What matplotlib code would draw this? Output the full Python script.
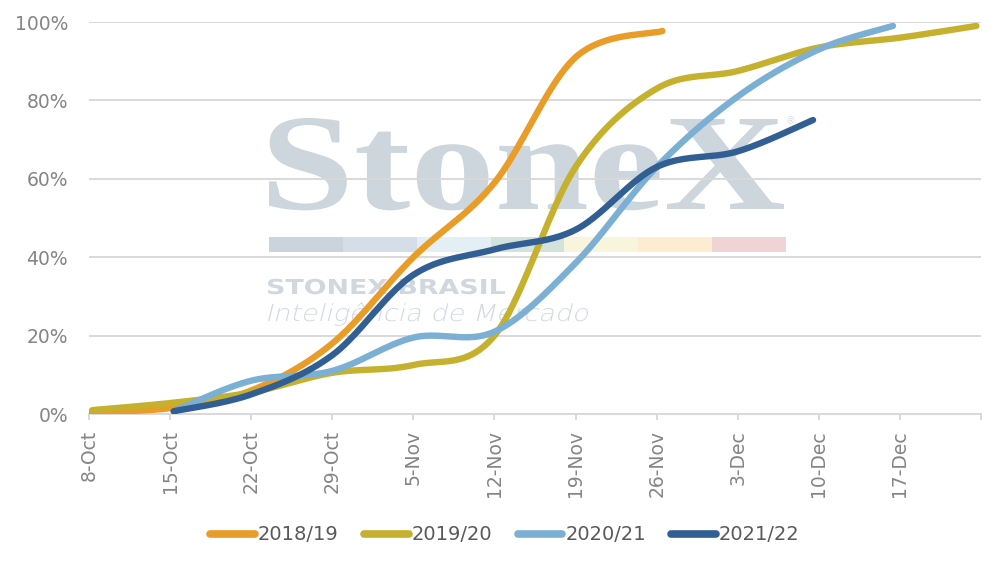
import numpy as np
import matplotlib
matplotlib.use("Agg")
import matplotlib.pyplot as plt
from matplotlib.textpath import TextPath
from matplotlib.font_manager import FontProperties
from matplotlib.patches import PathPatch, Rectangle
from matplotlib.transforms import Affine2D

# Eixo x: dias desde 8-Oct
tick_days = [0, 7, 14, 21, 28, 35, 42, 49, 56, 63, 70, 77]
tick_labels = ["8-Oct", "15-Oct", "22-Oct", "29-Oct", "5-Nov", "12-Nov",
               "19-Nov", "26-Nov", "3-Dec", "10-Dec", "17-Dec", ""]

# Séries (dia, % plantado)
x_1819 = [0, 7, 14, 21, 28, 35, 42, 49.5]
y_1819 = [0.5, 1.5, 6, 18, 40, 59, 91, 97.7]

x_1920 = [0.3, 7, 14, 21, 28, 35, 42, 49, 56, 63, 70, 76.6]
y_1920 = [1, 2.8, 5.5, 10.5, 12.5, 20, 63, 83, 87.5, 93.5, 96, 99]

x_2021 = [7.5, 14, 21, 28, 35, 42, 49, 56, 63, 69.4]
y_2021 = [1, 8.5, 11, 19.5, 21, 38.5, 63, 81, 93, 99]

x_2122 = [7.3, 14, 21, 28, 35, 42, 49, 56, 62.5]
y_2122 = [0.7, 5, 15, 35.5, 42, 47, 63, 67, 75]

labels = ["2018/19", "2019/20", "2020/21", "2021/22"]
colors = ["#E99C28", "#C5B12E", "#7BAFD4", "#325F93"]

W, H, DPI = 1005, 567, 100


def smooth(xs, ys, n=40):
    # curva suavizada tipo Excel (Bezier com pontos vizinhos)
    P = np.column_stack([xs, ys]).astype(float)
    P = np.vstack([P[0], P, P[-1]])
    out = []
    t = np.linspace(0, 1, n)[:, None]
    for i in range(1, len(P) - 2):
        p0, p1, p2, p3 = P[i - 1], P[i], P[i + 1], P[i + 2]
        c1 = p1 + (p2 - p0) / 6
        c2 = p2 - (p3 - p1) / 6
        seg = ((1 - t) ** 3) * p1 + 3 * ((1 - t) ** 2) * t * c1 \
            + 3 * (1 - t) * t ** 2 * c2 + t ** 3 * p2
        out.append(seg if i == 1 else seg[1:])
    out = np.vstack(out)
    return out[:, 0], out[:, 1]


fig = plt.figure(figsize=(W / DPI, H / DPI), dpi=DPI)
ax = fig.add_axes([89 / W, (H - 414) / H, (981 - 89) / W, (414 - 22) / H])
ax.set_facecolor("none")

pix = Affine2D().scale(1 / DPI) + fig.dpi_scale_trans


def logo_text(s, x0, x1, base, cap_px, prop, color, shear=0.0):
    tp = TextPath((0, 0), s, size=100, prop=prop)
    tp = Affine2D().skew_deg(shear, 0).transform_path(tp)
    ext = tp.get_extents()
    cap = TextPath((0, 0), "H", size=100, prop=prop).get_extents().height
    tr = Affine2D().translate(-ext.x0, 0).scale((x1 - x0) / ext.width, cap_px / cap) \
        .translate(x0, H - base)
    p = PathPatch(tr.transform_path(tp), fc=color, ec="none", lw=0,
                  transform=pix, zorder=-1)
    fig.add_artist(p)


# Marca d'água StoneX
logo_text("StoneX", 269, 784, 209, 90,
          FontProperties(family="Liberation Serif", weight="bold"), "#CDD5DD")
logo_text("STONEX BRASIL", 268, 505, 294, 15,
          FontProperties(family="DejaVu Sans", weight="bold"), "#D0D7DF")
logo_text("Inteligência de Mercado", 268, 588, 321, 17,
          FontProperties(family="DejaVu Sans", weight="light"), "#D3D9E1", shear=12)
fig.text(786 / W, 1 - 124 / H, "®", fontsize=7, color="#D6DCE3", zorder=-1)
bar_cols = ["#CBD3DC", "#D5DDE8", "#E3EEF5", "#D2E3DC", "#F9F5DD", "#FCECD1", "#F0D3D5"]
seg = (786 - 269) / len(bar_cols)
for i, c in enumerate(bar_cols):
    fig.add_artist(Rectangle((269 + i * seg, H - 252), seg, 15, fc=c, ec="none",
                             transform=pix, zorder=-1))

# Linhas
series = [(x_1819, y_1819), (x_1920, y_1920), (x_2021, y_2021), (x_2122, y_2122)]
for (xs, ys), lab, c in zip(series, labels, colors):
    sx, sy = smooth(xs, ys)
    ax.plot(sx, sy, color=c, lw=4.6, solid_capstyle="round", label=lab, zorder=3)

ax.set_xlim(0, 77)
ax.set_ylim(0, 100)
ax.set_yticks(range(0, 101, 20))
ax.set_yticklabels([f"{v}%" for v in range(0, 101, 20)])
ax.set_xticks(tick_days)
ax.set_xticklabels(tick_labels, rotation=90, va="top", ha="center")
ax.grid(axis="y", color="#D9D9D9", lw=1.4, zorder=1)
ax.set_axisbelow(True)
for s in ["left", "right", "top"]:
    ax.spines[s].set_visible(False)
ax.spines["bottom"].set_color("#D9D9D9")
ax.spines["bottom"].set_linewidth(1.4)
ax.tick_params(axis="y", length=0, pad=15, labelsize=13.5, labelcolor="#858585")
ax.tick_params(axis="x", length=4.5, width=1.4, color="#D9D9D9", pad=7,
               labelsize=13.5, labelcolor="#858585")

fig.legend(loc="center", bbox_to_anchor=(505 / W, 1 - 535 / H), ncol=4,
           frameon=False, fontsize=14, handlelength=2.3, handletextpad=0.15,
           columnspacing=1.3, labelcolor="#595959")
for h in fig.legends[0].legend_handles:
    h.set_linewidth(5.5)

fig.savefig("out.png", dpi=DPI)
